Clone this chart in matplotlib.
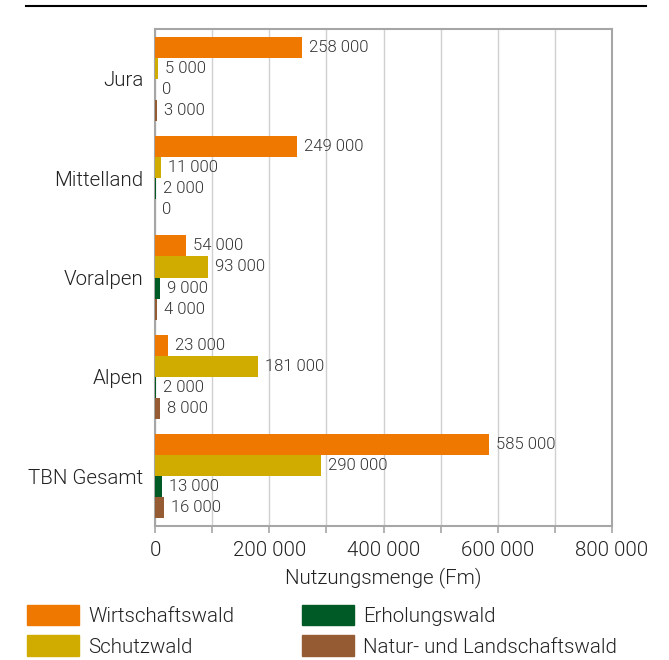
import matplotlib
matplotlib.use("Agg")
import matplotlib.pyplot as plt
from matplotlib.patches import Patch
from matplotlib.lines import Line2D
import numpy as np

plt.rcParams['font.family'] = ['Roboto', 'DejaVu Sans']
plt.rcParams['font.weight'] = 300
plt.rcParams['axes.labelweight'] = 300

regions = ["Jura", "Mittelland", "Voralpen", "Alpen", "TBN Gesamt"]
series = ["Wirtschaftswald", "Schutzwald", "Erholungswald", "Natur- und Landschaftswald"]
wirtschaft = [258000, 249000, 54000, 23000, 585000]
schutz = [5000, 11000, 93000, 181000, 290000]
erholung = [0, 2000, 9000, 2000, 13000]
natur = [3000, 0, 4000, 8000, 16000]
colors = ["#EE7800", "#D0AC00", "#005A26", "#955B32"]
xticks = [0, 200000, 400000, 600000, 800000]

def fmt(v):
    return f"{v:,.0f}".replace(",", " ")

fig = plt.figure(figsize=(6.69, 6.60), dpi=100)
ax = fig.add_axes([155 / 669, 1 - 526 / 660, (612 - 155) / 669, (526 - 29) / 660])

y = np.arange(len(regions))
h = 0.212
for i, vals in enumerate([wirtschaft, schutz, erholung, natur]):
    pos = y - 1.5 * h + i * h
    ax.barh(pos, vals, height=h, color=colors[i], zorder=3)
    for p, v in zip(pos, vals):
        ax.annotate(fmt(v), (v, p), xytext=(5, 0), textcoords="offset points",
                    va="center", ha="left", fontsize=12, color="#333333", zorder=4)

ax.set_ylim(4.5, -0.5)
ax.set_xlim(0, 800000)
ax.set_yticks(y)
ax.set_yticklabels(regions, fontsize=14.8, color="#222222")
ax.set_xticks(xticks)
ax.set_xticklabels([fmt(t) for t in xticks], fontsize=14.8, color="#222222")
ax.set_xticks(np.arange(0, 800001, 100000), minor=True)
ax.tick_params(axis="y", length=0, pad=8.5)
ax.tick_params(axis="x", which="both", length=5, color="#A6A6A6", width=1.2, pad=6)
ax.grid(axis="x", which="both", color="#D0D0D0", linewidth=1, zorder=0)
for s in ax.spines.values():
    s.set_color("#A6A6A6")
    s.set_linewidth(1.5)
ax.set_xlabel("Nutzungsmenge (Fm)", fontsize=14.8, color="#222222", labelpad=5)

# top rule
fig.add_artist(Line2D([26 / 669, 646 / 669], [1 - 6 / 660, 1 - 6 / 660], color="black", linewidth=1.5))

# legend: two columns placed separately
handles = [Patch(color=c) for c in colors]
for col, x0 in enumerate([27, 302]):
    idx = [2 * col, 2 * col + 1]
    fig.legend([handles[i] for i in idx], [series[i] for i in idx],
               loc="upper left", bbox_to_anchor=(x0 / 669, 1 - 605 / 660), frameon=False,
               fontsize=14.8, labelcolor="#222222", handlelength=2.55, handleheight=1.15,
               handletextpad=0.43, labelspacing=0.45, borderaxespad=0, borderpad=0)

fig.savefig("out.png", dpi=100)
